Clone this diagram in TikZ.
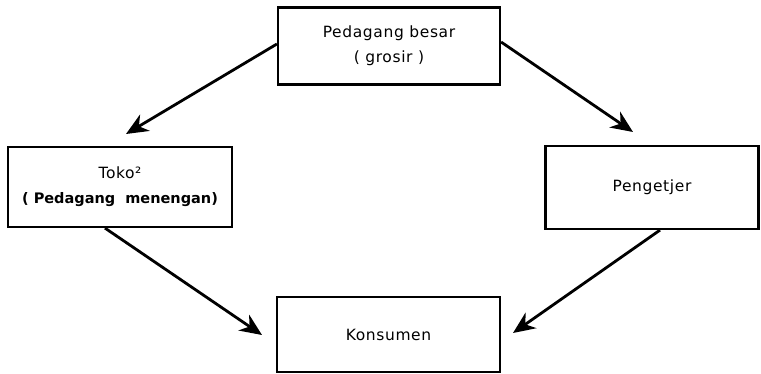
\documentclass[tikz,border=0pt]{standalone}
\usepackage{fontspec}
\setmainfont[LetterSpace=4]{DejaVu Sans}
\newfontfamily\boldline[LetterSpace=0]{DejaVu Sans}
\usetikzlibrary{arrows.meta}
\begin{document}
\begin{tikzpicture}[x=1pt,y=-1pt,
  box/.style={draw, line width=2.2pt, minimum height=0pt, inner sep=0pt, font=\fontsize{15.5}{25}\selectfont, align=center},
  conn/.style={line width=2.8pt, -{Stealth[length=22pt,width=19pt,inset=7pt]}}]
\useasboundingbox (0,0) rectangle (761,374);
\node[box, minimum width=222pt, minimum height=77pt] (top) at (389,46) {Pedagang besar\\( grosir )};
\node[box, minimum width=224pt, minimum height=80pt] (left) at (120,187) {Toko²\\{\boldline\fontsize{14.5}{25}\selectfont\bfseries ( Pedagang\ \ menengan)}};
\node[box, minimum width=213pt, minimum height=83pt] (right) at (652,187.5) {Pengetjer};
\node[box, minimum width=223pt, minimum height=75pt] (bot) at (388.5,334.5) {Konsumen};
\coordinate (t1) at (126,134);
\coordinate (t2) at (633,132);
\coordinate (t3) at (262,335);
\coordinate (t4) at (513,333);
\draw[conn] (top.west) ++(0,-2) -- (t1);
\draw[conn] (top.east) ++(0,-4) -- (t2);
\draw[conn] (left.south) ++(-15,0) -- (t3);
\draw[conn] (right.south) ++(8,0) -- (t4);
\end{tikzpicture}
\end{document}
